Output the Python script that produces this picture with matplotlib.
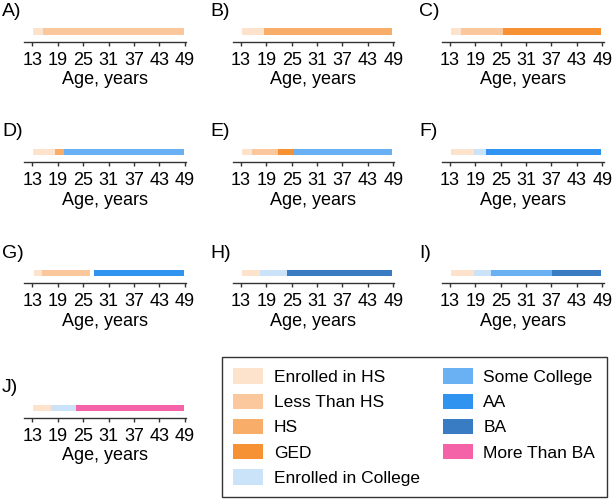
import matplotlib as mpl
mpl.use('Agg')
import matplotlib.pyplot as plt
from matplotlib.patches import Patch

plt.rcParams['font.family'] = ['Liberation Sans', 'DejaVu Sans']

# Education states and their colours
state_names = ['Enrolled in HS', 'Less Than HS', 'HS', 'GED', 'Enrolled in College',
               'Some College', 'AA', 'BA', 'More Than BA']
state_colors = ['#fde3cc', '#fac89c', '#f8ad68', '#f69233', '#cbe3f8',
                '#69b1f3', '#2f93ef', '#3a7cc4', '#f462a8']

# Sequence for each panel: state, start age, end age
panel_labels = ['A)', 'B)', 'C)', 'D)', 'E)', 'F)', 'G)', 'H)', 'I)', 'J)']
panel_states = [
    ['Enrolled in HS', 'Less Than HS'],
    ['Enrolled in HS', 'HS'],
    ['Enrolled in HS', 'Less Than HS', 'GED'],
    ['Enrolled in HS', 'HS', 'Some College'],
    ['Enrolled in HS', 'Less Than HS', 'GED', 'Some College'],
    ['Enrolled in HS', 'Enrolled in College', 'AA'],
    ['Enrolled in HS', 'Less Than HS', 'AA'],
    ['Enrolled in HS', 'Enrolled in College', 'BA'],
    ['Enrolled in HS', 'Enrolled in College', 'Some College', 'BA'],
    ['Enrolled in HS', 'Enrolled in College', 'More Than BA'],
]
panel_starts = [
    [13.2, 15.5],
    [13.2, 18.5],
    [13.3, 15.5, 25.6],
    [13.2, 18.4, 20.4],
    [13.3, 15.6, 21.8, 25.6],
    [13.3, 18.6, 21.6],
    [13.3, 15.3, 27.5],
    [13.3, 17.6, 23.8],
    [13.3, 18.6, 22.7, 37.2],
    [13.2, 17.4, 23.4],
]
panel_ends = [
    [15.5, 48.8],
    [18.5, 48.8],
    [15.5, 25.6, 48.8],
    [18.4, 20.4, 48.8],
    [15.6, 21.8, 25.6, 48.8],
    [18.6, 21.6, 48.8],
    [15.3, 26.6, 48.8],
    [17.6, 23.8, 48.8],
    [18.6, 22.7, 37.2, 48.8],
    [17.4, 23.4, 48.8],
]
age_ticks = [13, 19, 25, 31, 37, 43, 49]

color_of = dict(zip(state_names, state_colors))

W, H = 614, 500
fig = plt.figure(figsize=(W / 100, H / 100), dpi=100)

# pixel layout (top-left origin): axis-line rows and column lefts
row_y = [42, 162, 283, 418]
col_x = [24, 232.5, 441.5]
ax_w, ax_h = 162, 20

for i, lab in enumerate(panel_labels):
    r, c = i // 3, i % 3
    left = col_x[c]
    bottom = row_y[r]
    ax = fig.add_axes([left / W, 1 - bottom / H, ax_w / W, ax_h / H])
    for st, s, e in zip(panel_states[i], panel_starts[i], panel_ends[i]):
        ax.barh(10.5, e - s, left=s, height=6, color=color_of[st], linewidth=0)
    ax.set_xlim(11, 49.3)
    ax.set_ylim(0, 20)
    for sp in ['top', 'right', 'left']:
        ax.spines[sp].set_visible(False)
    ax.spines['bottom'].set_color('#333333')
    ax.spines['bottom'].set_linewidth(1)
    ax.set_yticks([])
    ax.set_xticks(age_ticks)
    ax.tick_params(axis='x', length=3, width=1, color='#333333', pad=4.5,
                   labelsize=13)
    ax.set_xlabel('Age, years', fontsize=13, labelpad=1.5)
    ax.patch.set_alpha(0)
    fig.text((left - 22) / W, 1 - (bottom - 30) / H, lab, fontsize=14,
             ha='left', va='center')

handles = [Patch(facecolor=c, edgecolor='none') for c in state_colors]
fig.legend(handles, state_names, ncol=2, loc='upper left',
           bbox_to_anchor=(222 / W, 1 - 357 / H),
           fontsize=12.5, frameon=True, fancybox=False,
           edgecolor='#333333', framealpha=1, handlelength=1.72,
           handleheight=0.98, labelspacing=0.5, handletextpad=0.63,
           columnspacing=1.3, borderpad=0.65, borderaxespad=0)

fig.savefig('out.png', dpi=100)
